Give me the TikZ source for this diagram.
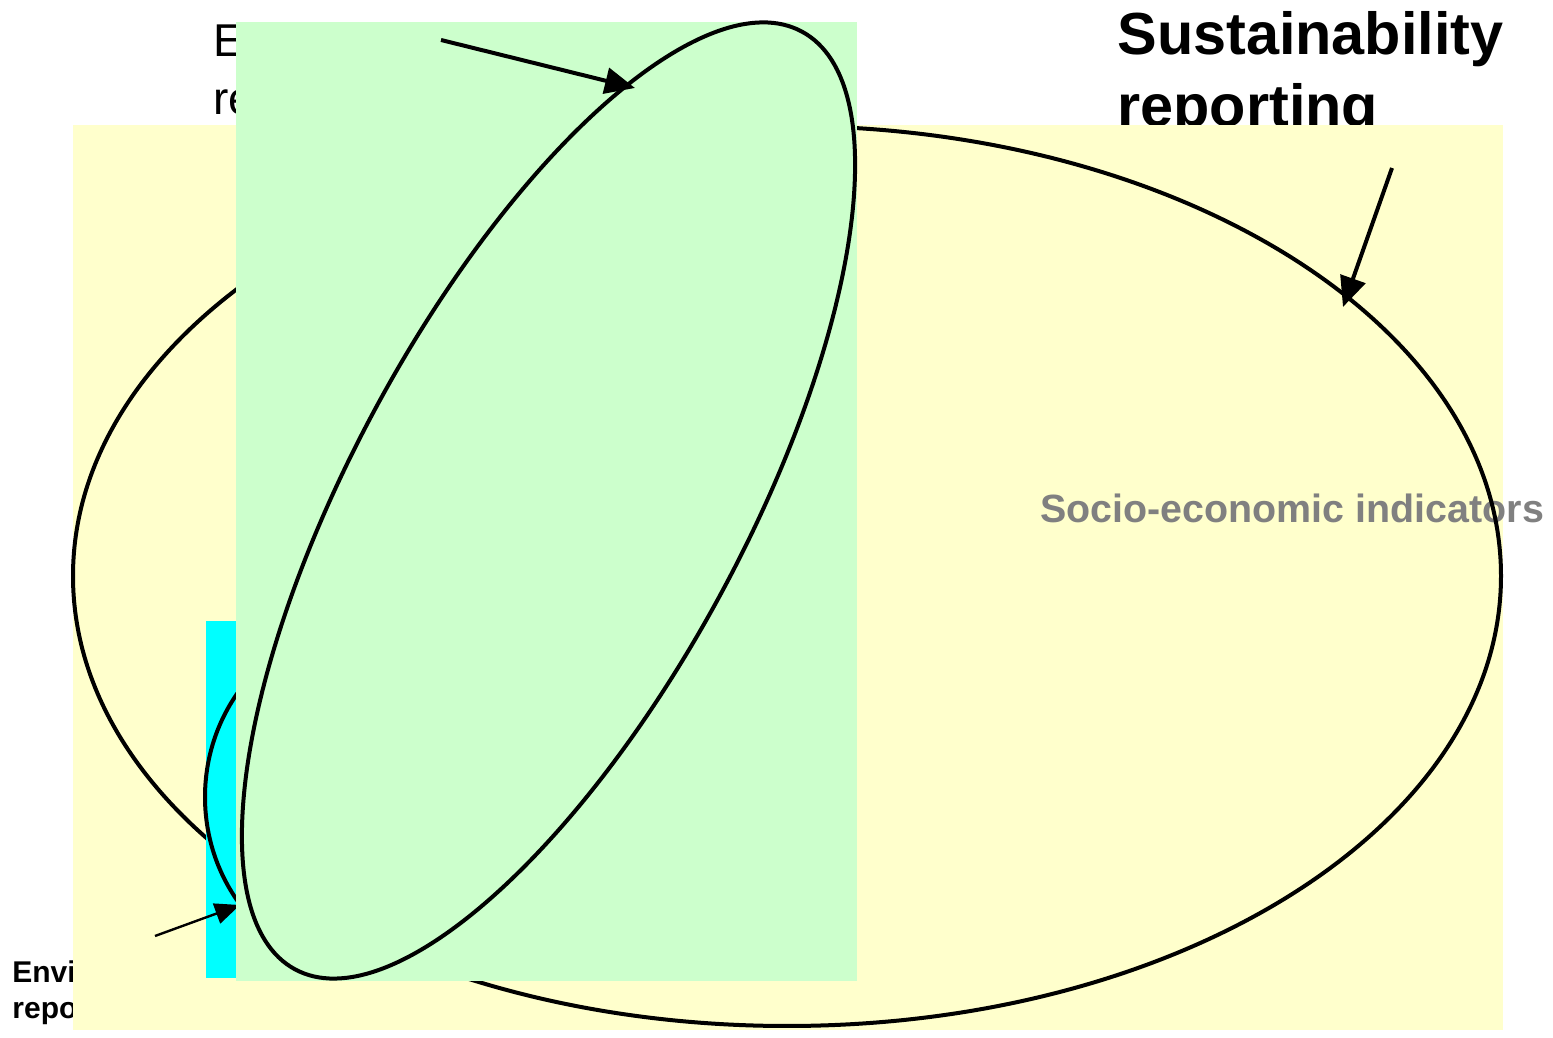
\documentclass[tikz,border=0pt]{standalone}
\usepackage{fontspec}
\setmainfont{Liberation Sans}
\usetikzlibrary{arrows.meta}
\definecolor{paleyellow}{HTML}{FFFFCC}
\definecolor{palegreen}{HTML}{CCFFCC}
\definecolor{cyanfill}{HTML}{00FFFF}
\definecolor{labelgray}{HTML}{808080}
\begin{document}
\begin{tikzpicture}[x=0.5pt,y=0.5pt,
  outline/.style={draw=black,line width=2pt},
  pointer/.style={draw=black,line width=2pt,-{Triangle[length=15pt,width=13pt]}},
  thinpointer/.style={draw=black,line width=1.2pt,-{Triangle[length=12.5pt,width=10.5pt]}},
  txt/.style={inner sep=0pt,anchor=base west},
  bigfont/.style={font=\fontsize{23pt}{28pt}\selectfont},
  titlefont/.style={font=\fontsize{29.7pt}{34pt}\selectfont\bfseries},
  smallfont/.style={font=\fontsize{15pt}{18pt}\selectfont\bfseries},
  grayfont/.style={font=\fontsize{19.7pt}{23pt}\selectfont\bfseries,text=labelgray}]
\useasboundingbox (0,0) rectangle (1553,1038);
% labels lying under the coloured panels
\node[txt,bigfont] (toplabA) at (213,981) {Environmental};
\node[txt,bigfont] (toplabB) at (213,923) {reporting};
\node[txt,titlefont] (sustA) at (1117,983) {Sustainability};
\node[txt,titlefont] (sustB) at (1117,911) {reporting};
\node[txt,smallfont] (envA) at (12,55) {Environmental};
\node[txt,smallfont] (envB) at (12,19) {reporting};
% yellow panel and sustainability ellipse
\fill[paleyellow] (73,8) rectangle (1503,913);
\node[txt,grayfont] (socio) at (1040,515) {Socio-economic indicators};
\draw[outline] (787,462) ellipse [x radius=714, y radius=450];
\coordinate (sustfrom) at (1392,870);
\coordinate (sustto) at (1343,731);
\draw[pointer] (sustfrom) -- (sustto);
% cyan panel and environmental ellipse
\fill[cyanfill] (206,60) rectangle (420,417);
\draw[outline,fill=cyanfill] (378,241) ellipse [x radius=173, y radius=178];
\coordinate (envfrom) at (155,102);
\coordinate (envto) at (240,133);
\draw[thinpointer] (envfrom) -- (envto);
% green panel and tilted ellipse
\fill[palegreen] (236,57) rectangle (857,1016);
\draw[outline,fill=palegreen] (548.5,537.5) ellipse [x radius=533, y radius=196, rotate=61.6];
\coordinate (greenfrom) at (441,998);
\coordinate (greento) at (635,950);
\draw[pointer] (greenfrom) -- (greento);
\end{tikzpicture}
\end{document}
